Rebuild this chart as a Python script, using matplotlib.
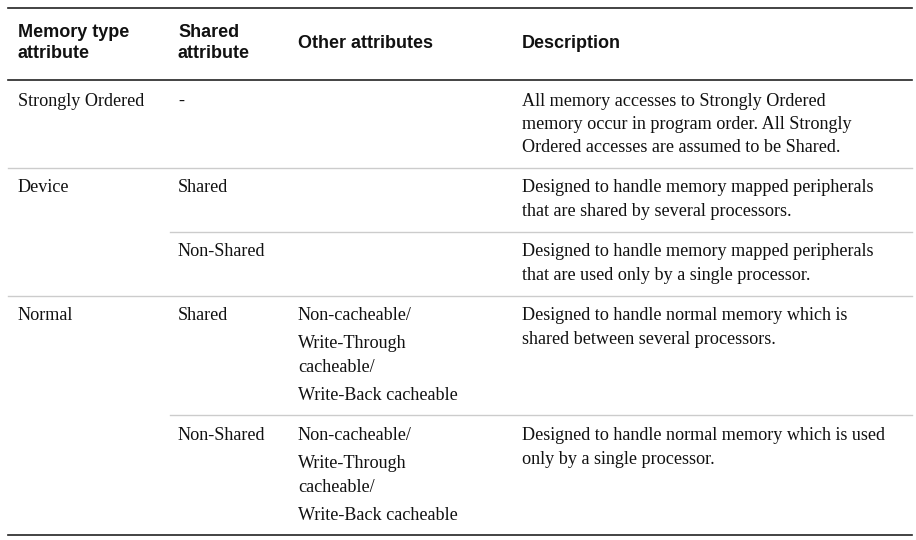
import matplotlib
matplotlib.use('Agg')
import matplotlib.pyplot as plt

headers = ['Memory type\nattribute', 'Shared\nattribute', 'Other attributes', 'Description']
memory_types = ['Strongly Ordered', 'Device', '', 'Normal', '']
shared = ['-', 'Shared', 'Non-Shared', 'Shared', 'Non-Shared']
other = ['', '', '',
         ['Non-cacheable/', 'Write-Through', 'cacheable/', 'Write-Back cacheable'],
         ['Non-cacheable/', 'Write-Through', 'cacheable/', 'Write-Back cacheable']]
descriptions = [
    ['All memory accesses to Strongly Ordered', 'memory occur in program order. All Strongly',
     'Ordered accesses are assumed to be Shared.'],
    ['Designed to handle memory mapped peripherals', 'that are shared by several processors.'],
    ['Designed to handle memory mapped peripherals', 'that are used only by a single processor.'],
    ['Designed to handle normal memory which is', 'shared between several processors.'],
    ['Designed to handle normal memory which is used', 'only by a single processor.'],
]

col_x = [18, 178, 298, 522]
row_top = [101, 188, 252, 316, 436]
other_dy = [0, 28, 52, 79]
seps = [(168, 8), (232, 170), (296, 8), (415, 170)]

fig = plt.figure(figsize=(9.16, 5.4), dpi=100)
ax = fig.add_axes([0, 0, 1, 1])
ax.set_xlim(0, 916)
ax.set_ylim(540, 0)
ax.axis('off')

sans = dict(family=['Liberation Sans', 'DejaVu Sans'], fontsize=13, fontweight='bold', color='#111111')
serif = dict(family=['Liberation Serif', 'DejaVu Serif'], fontsize=13.1, color='#111111')

for x, h in zip(col_x, headers):
    ax.text(x, 43, h, va='center', ha='left', linespacing=1.3, **sans)

for i in range(len(memory_types)):
    y = row_top[i]
    ax.text(col_x[0], y, memory_types[i], va='center', **serif)
    ax.text(col_x[1], y, shared[i], va='center', **serif)
    if other[i]:
        for dy, line in zip(other_dy, other[i]):
            ax.text(col_x[2], y + dy, line, va='center', **serif)
    for k, line in enumerate(descriptions[i]):
        ax.text(col_x[3], y + 23.5 * k, line, va='center', **serif)

ax.plot([8, 912], [8, 8], color='#222222', lw=1.2)
ax.plot([8, 912], [80, 80], color='#222222', lw=1.2)
ax.plot([8, 912], [535, 535], color='#222222', lw=1.2)
for y, x0 in seps:
    ax.plot([x0, 912], [y, y], color='#cccccc', lw=1)

fig.savefig('out.png', dpi=100, facecolor='white')
